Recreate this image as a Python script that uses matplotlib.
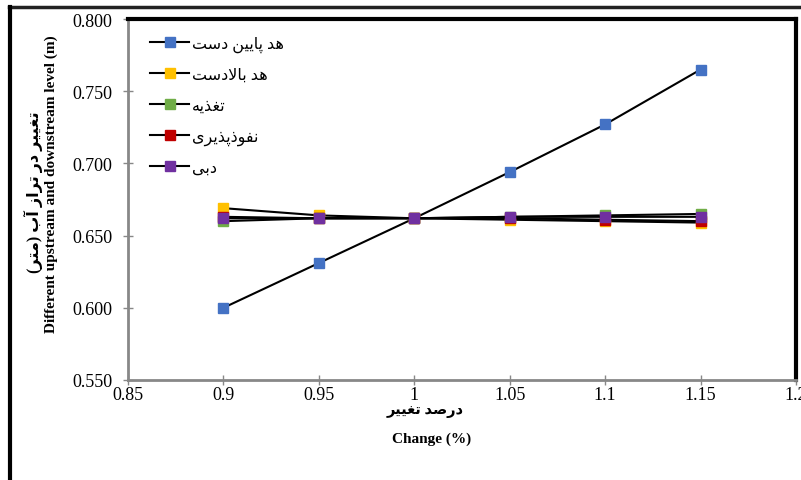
import matplotlib
matplotlib.use("Agg")
import matplotlib.pyplot as plt
from matplotlib.lines import Line2D

# ---- data ----
change = [0.9, 0.95, 1.0, 1.05, 1.1, 1.15]
downstream = [0.600, 0.631, 0.662, 0.694, 0.727, 0.765]
upstream = [0.669, 0.664, 0.662, 0.661, 0.660, 0.659]
recharge = [0.660, 0.662, 0.662, 0.663, 0.664, 0.665]
permeability = [0.663, 0.662, 0.662, 0.662, 0.661, 0.660]
discharge = [0.662, 0.662, 0.662, 0.663, 0.663, 0.663]

names = ["هد پایین دست", "هد بالادست", "تغذیه", "نفوذپذیری", "دبی"]
colors = ["#4472C4", "#FFC000", "#70AD47", "#C00000", "#7030A0"]

xticks = [0.85, 0.9, 0.95, 1.0, 1.05, 1.1, 1.15, 1.2]
xtick_labels = ["0.85", "0.9", "0.95", "1", "1.05", "1.1", "1.15", "1.2"]
yticks = [0.55, 0.60, 0.65, 0.70, 0.75, 0.80]

# ---- tiny Persian shaper (matplotlib does no Arabic shaping) ----
# isolated, final, initial, medial
FORMS = {
    "ا": ("\uFE8D", "\uFE8E", None, None),
    "آ": ("\uFE81", "\uFE82", None, None),
    "ب": ("\uFE8F", "\uFE90", "\uFE91", "\uFE92"),
    "پ": ("\uFB56", "\uFB57", "\uFB58", "\uFB59"),
    "ت": ("\uFE95", "\uFE96", "\uFE97", "\uFE98"),
    "د": ("\uFEA9", "\uFEAA", None, None),
    "ذ": ("\uFEAB", "\uFEAC", None, None),
    "ر": ("\uFEAD", "\uFEAE", None, None),
    "ز": ("\uFEAF", "\uFEB0", None, None),
    "س": ("\uFEB1", "\uFEB2", "\uFEB3", "\uFEB4"),
    "ص": ("\uFEB9", "\uFEBA", "\uFEBB", "\uFEBC"),
    "غ": ("\uFECD", "\uFECE", "\uFECF", "\uFED0"),
    "ف": ("\uFED1", "\uFED2", "\uFED3", "\uFED4"),
    "ل": ("\uFEDD", "\uFEDE", "\uFEDF", "\uFEE0"),
    "م": ("\uFEE1", "\uFEE2", "\uFEE3", "\uFEE4"),
    "ن": ("\uFEE5", "\uFEE6", "\uFEE7", "\uFEE8"),
    "ه": ("\uFEE9", "\uFEEA", "\uFEEB", "\uFEEC"),
    "و": ("\uFEED", "\uFEEE", None, None),
    "ی": ("\uFBFC", "\uFBFD", "\uFBFE", "\uFBFF"),
}


def fa(text):
    chars = list(text)
    out = []
    i = 0
    while i < len(chars):
        c = chars[i]
        prev = chars[i - 1] if i > 0 else None
        joins_prev = prev in FORMS and FORMS[prev][2] is not None
        # lam-alef ligature
        if c == "ل" and i + 1 < len(chars) and chars[i + 1] == "ا":
            out.append("\uFEFC" if joins_prev else "\uFEFB")
            i += 2
            continue
        if c in FORMS:
            iso, fin, ini, med = FORMS[c]
            nxt = chars[i + 1] if i + 1 < len(chars) else None
            joins_next = ini is not None and nxt in FORMS
            if joins_prev and joins_next:
                out.append(med)
            elif joins_prev:
                out.append(fin)
            elif joins_next:
                out.append(ini)
            else:
                out.append(iso)
        else:
            out.append(c)
        i += 1
    vis = "".join(reversed(out))
    return vis.translate(str.maketrans("()", ")("))


serif = ["Liberation Serif", "DejaVu Sans"]
plt.rcParams["font.family"] = serif

fig = plt.figure(figsize=(8.01, 4.81), dpi=100)
ax = fig.add_axes([128 / 801, 1 - 381 / 481, (796 - 128) / 801, (381 - 20) / 481])

series = [downstream, upstream, recharge, permeability, discharge]
for vals, col, name in zip(series, colors, names):
    ax.plot(change, vals, color="black", lw=1.5, marker="s", ms=7,
            mfc=col, mec=col, label=fa(name), zorder=3)

ax.set_xlim(0.85, 1.2)
ax.set_ylim(0.55, 0.80)
ax.set_xticks(xticks)
ax.set_xticklabels(xtick_labels)
ax.set_yticks(yticks)
ax.set_yticklabels(["%.3f" % v for v in yticks])
ax.tick_params(direction="inout", length=7, width=1, color="#888888",
               labelsize=13)
ax.tick_params(axis="x", pad=1)
ax.tick_params(axis="y", pad=8)

for s in ["left", "bottom"]:
    ax.spines[s].set_color("#888888")
    ax.spines[s].set_linewidth(2)
for s in ["top", "right"]:
    ax.spines[s].set_color("black")
    ax.spines[s].set_linewidth(3)

handles = [Line2D([0], [0], color="black", lw=1.5, marker="s", ms=7,
                  mfc=c, mec=c) for c in colors]
leg = ax.legend(handles, [fa(n) for n in names], loc="upper left",
                bbox_to_anchor=(0.012, 0.993), frameon=False,
                prop={"family": serif, "size": 11.5}, labelspacing=0.93,
                handlelength=2.4, handletextpad=0.2)

# axis titles (Persian + English lines)
fig.text(33 / 801, 1 - 192 / 481, fa("تغییر در تراز آب (متر)"), rotation=90,
         ha="center", va="center", fontsize=11.5, fontweight="bold", family=serif)
fig.text(51 / 801, 1 - 184 / 481, "Different upstream and downstream level (m)",
         rotation=90, ha="center", va="center", fontsize=11,
         fontweight="bold", family=serif)
fig.text(425 / 801, 1 - 412 / 481, fa("درصد تغییر"), ha="center", va="center",
         fontsize=10.5, fontweight="bold", family=serif)
fig.text(432 / 801, 1 - 439 / 481, "Change (%)", ha="center", va="center",
         fontsize=11, fontweight="bold", family=serif)

# outer frame of the cropped chart
fig.add_artist(Line2D([9 / 801, 1], [1 - 8 / 481, 1 - 8 / 481],
                      transform=fig.transFigure, color="#222222", lw=2.5))
fig.add_artist(Line2D([10 / 801, 10 / 801], [0, 1 - 8 / 481],
                      transform=fig.transFigure, color="black", lw=3))

fig.savefig("out.png", dpi=100)
